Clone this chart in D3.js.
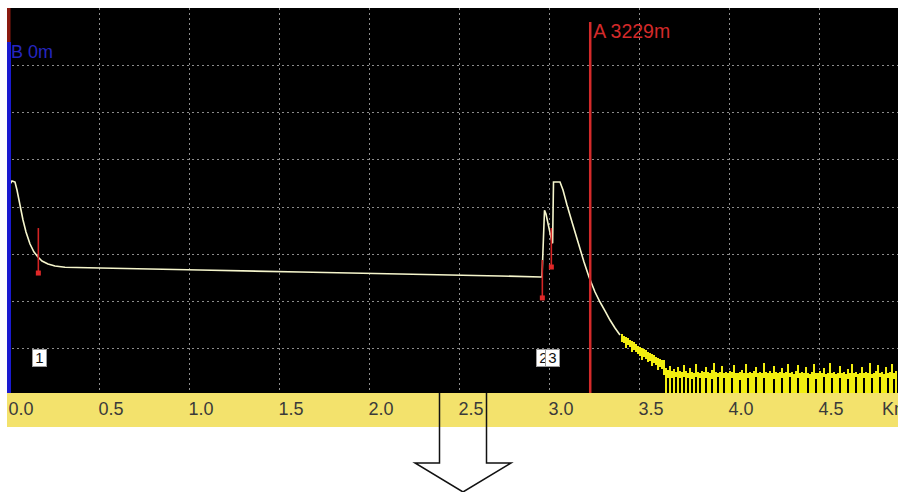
<!DOCTYPE html>
<html><head><meta charset="utf-8">
<script src="https://cdn.jsdelivr.net/npm/d3@7"></script>
<style>html,body{margin:0;padding:0;background:#fff;overflow:hidden}</style>
</head><body>
<svg id="c" width="898" height="492"></svg>
<script>
// ---- data ----
const xTicks = [0, 0.5, 1.0, 1.5, 2.0, 2.5, 3.0, 3.5, 4.0, 4.5];
const xTickLabels = ["0.0","0.5","1.0","1.5","2.0","2.5","3.0","3.5","4.0","4.5"];
const yGridDb = [5, 10, 15, 20, 25, 30, 35];

const traceKm = [0.0056,0.0167,0.0333,0.0444,0.0611,0.0778,0.0944,0.1167,0.1389,0.1611,0.1833,0.2167,0.2556,0.3111,0.5056,1.0611,1.6167,2.1722,2.7278,2.9556,2.9611,2.9750,2.9833,3.0000,3.0167,3.0200,3.0250,3.0611,3.0778,3.1000,3.1278,3.1611,3.1944,3.2222,3.2556,3.2833,3.3111,3.3389,3.3667,3.3944];
const traceDb = [22.39,22.71,22.60,21.75,20.16,18.57,17.30,16.03,15.18,14.65,14.23,13.91,13.70,13.57,13.48,13.27,13.06,12.85,12.64,12.53,12.53,19.61,19.21,17.72,16.24,16.10,22.60,22.60,21.75,20.16,18.36,16.24,14.12,12.53,10.94,9.88,8.93,7.97,7.12,6.38];

// noise section (sampled columns)
const noiseStartKm = 3.4056, noiseStepKm = 0.01111;
const noiseHi = [6.49,6.28,6.17,6.06,5.85,5.75,5.64,5.43,5.22,5.11,5.00,4.90,4.79,4.58,4.47,4.37,4.26,4.05,3.94,3.84,3.73,3.73,
2.9,2.7,3.1,2.6,2.8,2.5,3.0,2.6,2.5,3.2,
2.6,2.4,2.9,2.5,2.4,3.3,2.5,2.4,2.6,2.5,
3.0,2.5,2.4,2.7,3.4,2.5,2.4,2.5,3.1,2.4,
2.5,2.4,2.6,2.5,3.2,2.4,2.4,2.5,2.7,2.4,
3.3,2.4,2.5,2.4,2.6,3.0,2.4,2.5,2.4,3.4,
2.5,2.4,2.6,2.4,3.1,2.5,2.4,2.5,2.9,2.4,
2.5,3.3,2.4,2.5,2.3,2.6,3.2,2.4,2.5,2.4,
3.0,2.4,2.3,2.5,3.3,2.4,2.4,2.6,2.4,2.9,
2.3,2.4,3.4,2.4,2.5,2.3,2.4,3.1,2.4,2.5,
2.3,2.8,2.4,3.3,2.4,2.5,2.3,2.4,3.0,2.4,
2.5,2.4,3.4,2.3,2.4,2.6,3.2,2.4,2.5,2.3,
3.0,2.4,2.5,3.3,2.4,2.6];
const noiseLo = [5.64,5.53,5.00,5.32,5.11,4.58,4.79,4.58,4.37,4.16,3.73,4.05,3.84,3.52,3.63,3.09,3.41,3.20,2.67,2.99,2.78,2.14,
0,1.8,0,1.8,0,1.9,0,1.8,0,1.9,
0,1.8,0,1.7,0,1.9,0,1.8,0,0,
1.8,0,0,1.7,0,0,1.9,0,0,1.8,
0,0,0,1.8,0,0,0,1.6,0,0,
0,1.8,0,0,0,1.9,0,0,0,1.8,
0,0,0,0,1.7,0,0,0,1.8,0,
0,0,1.9,0,0,0,1.8,0,0,0,
0,1.8,0,0,0,1.7,0,0,0,1.9,
0,0,0,1.8,0,0,0,1.8,0,0,
0,1.7,0,0,0,1.9,0,0,0,1.8,
0,0,0,1.8,0,0,0,1.9,0,0,
0,1.8,0,0,1.7,0];

const eventKm = [0.163, 2.963, 3.013];
const eventTopDb = [17.72, 14.33, 17.72];
const eventBottomDb = [12.95, 10.31, 13.59];
const eventLabels = ["1", "2", "3"];

const cursorA = 3.229, cursorALabel = "A 3229m";
const cursorB = 0, cursorBLabel = "B 0m";

// ---- drawing ----
const svg = d3.select("#c");
const L = 7, T = 8, R = 898, B = 393;
const x = d3.scaleLinear().domain([0, 5]).range([9, 909]);
const y = d3.scaleLinear().domain([0, 41]).range([395.2, 8.45]);

svg.append("rect").attr("width", 898).attr("height", 492).attr("fill", "#fff");
svg.append("rect").attr("x", L).attr("y", T).attr("width", R - L).attr("height", B - T).attr("fill", "#000");

svg.append("defs").append("clipPath").attr("id", "clip")
  .append("rect").attr("x", L).attr("y", T).attr("width", R - L).attr("height", B - T);

const grid = svg.append("g").attr("stroke", "#8c8c8c").attr("stroke-width", 1).attr("stroke-dasharray", "2,3");
grid.selectAll(".v").data(xTicks.filter(d => d > 0)).join("line")
  .attr("x1", d => Math.round(x(d)) + 0.5).attr("x2", d => Math.round(x(d)) + 0.5)
  .attr("y1", T).attr("y2", B);
grid.selectAll(".h").data(yGridDb).join("line")
  .attr("x1", L).attr("x2", R)
  .attr("y1", d => Math.round(y(d)) + 0.5).attr("y2", d => Math.round(y(d)) + 0.5);

const plot = svg.append("g").attr("clip-path", "url(#clip)");

// noise columns
const noise = noiseHi.map((h, i) => ({ km: noiseStartKm + i * noiseStepKm, hi: h, lo: noiseLo[i] }));
plot.append("g").selectAll("rect").data(noise).join("rect")
  .attr("x", d => Math.round(x(d.km)) - 1).attr("width", 2)
  .attr("y", d => Math.round(y(d.hi)))
  .attr("height", d => Math.max(1, Math.round(y(d.lo)) - Math.round(y(d.hi))))
  .attr("fill", "#f2ee10");

// trace
const trace = traceKm.map((k, i) => ({ km: k, db: traceDb[i] }));
plot.append("path").datum(trace)
  .attr("d", d3.line().x(d => x(d.km)).y(d => y(d.db)))
  .attr("fill", "none").attr("stroke", "#f6f6cc").attr("stroke-width", 1.6);

// events
const ev = eventKm.map((k, i) => ({ km: k, top: eventTopDb[i], bot: eventBottomDb[i], label: eventLabels[i] }));
plot.append("g").selectAll("line").data(ev).join("line")
  .attr("x1", d => x(d.km)).attr("x2", d => x(d.km))
  .attr("y1", d => y(d.top)).attr("y2", d => y(d.bot))
  .attr("stroke", "#d42424").attr("stroke-width", 1.6);
plot.append("g").selectAll("rect").data(ev).join("rect")
  .attr("x", d => x(d.km) - 2.5).attr("y", d => y(d.bot) - 2.5)
  .attr("width", 5).attr("height", 5).attr("fill", "#e02828");

const boxes = plot.append("g").selectAll("g").data(ev).join("g")
  .attr("transform", d => `translate(${Math.round(x(d.km) - 6)},349)`);
boxes.append("rect").attr("x", 0.5).attr("y", 0.5).attr("width", 14).attr("height", 17)
  .attr("fill", "#fff").attr("stroke", "#9a9a9a").attr("stroke-width", 1);
boxes.append("text").attr("x", 7.5).attr("y", 14).attr("text-anchor", "middle")
  .attr("font-family", "Liberation Sans, Arial, sans-serif").attr("font-size", 15)
  .attr("fill", "#111").text(d => d.label);

// cursor B
svg.append("rect").attr("x", 7).attr("y", T).attr("width", 3.5).attr("height", 34).attr("fill", "#8a1a10");
svg.append("rect").attr("x", x(cursorB) - 2).attr("y", 42).attr("width", 4).attr("height", B - 42).attr("fill", "#1a1ad0");
svg.append("text").attr("x", x(cursorB) + 2).attr("y", 58)
  .attr("font-family", "Liberation Sans, Arial, sans-serif").attr("font-size", 18)
  .attr("fill", "#2626c0").text(cursorBLabel);

// cursor A
svg.append("line").attr("x1", x(cursorA)).attr("x2", x(cursorA)).attr("y1", 22).attr("y2", B)
  .attr("stroke", "#d42a2a").attr("stroke-width", 2.5);
svg.append("text").attr("x", x(cursorA) + 3).attr("y", 38)
  .attr("font-family", "Liberation Sans, Arial, sans-serif").attr("font-size", 19.5)
  .attr("fill", "#d42a2a").text(cursorALabel);

// axis band
svg.append("rect").attr("x", L).attr("y", B).attr("width", R - L).attr("height", 34).attr("fill", "#f3e26c");
const ax = svg.append("g").attr("transform", `translate(0,${B})`)
  .call(d3.axisBottom(x).tickValues(xTicks).tickSize(0).tickFormat((d, i) => xTickLabels[i]));
ax.select(".domain").remove();
ax.selectAll("text").attr("text-anchor", "start").attr("x", -1).attr("y", 22).attr("dy", 0)
  .attr("font-family", "Liberation Sans, Arial, sans-serif").attr("font-size", 18).attr("fill", "#3a3a3a");
svg.append("text").attr("x", 882).attr("y", B + 22)
  .attr("font-family", "Liberation Sans, Arial, sans-serif").attr("font-size", 18).attr("fill", "#3a3a3a").text("Km");

// arrow annotation
svg.append("path")
  .attr("d", "M439.5,393 V463 H415 L463,492 L511,463 H486.5 V393")
  .attr("fill", "none").attr("stroke", "#111").attr("stroke-width", 1.5);
</script>
</body></html>
